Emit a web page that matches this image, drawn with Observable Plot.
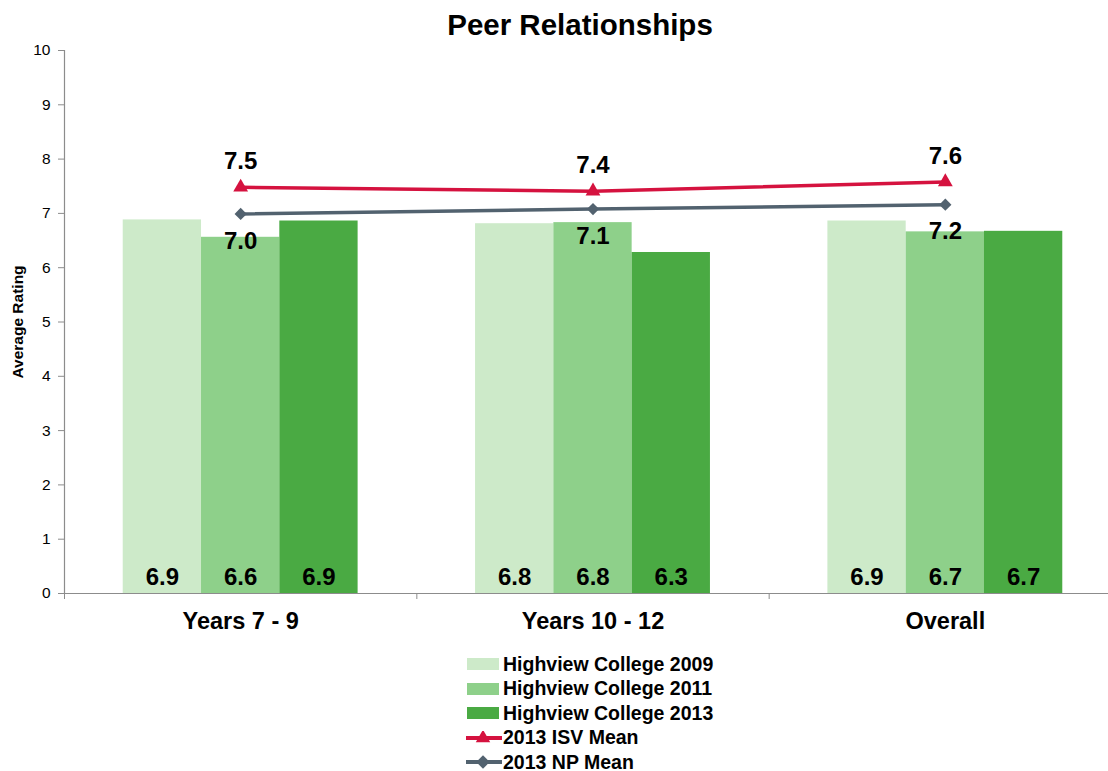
<!DOCTYPE html>
<html>
<head>
<meta charset="utf-8">
<script src="https://cdn.jsdelivr.net/npm/d3@7"></script>
<script src="https://cdn.jsdelivr.net/npm/@observablehq/plot@0.6"></script>
<style>
  body { margin: 0; background: #fff; font-family: "Liberation Sans", Arial, sans-serif; }
  #wrap { position: relative; width: 1108px; height: 771px; overflow: hidden; }
  #title { position: absolute; top: 8px; left: 0; width: 1160px; text-align: center; font-weight: bold; font-size: 29.5px; color: #000; }
  #chart { position: absolute; top: 0; left: 0; }
  #legend { position: absolute; left: 466px; top: 652px; }
  .item { display: flex; align-items: center; height: 24.5px; font-weight: bold; font-size: 19.5px; color: #000; }
  .item svg { margin-right: 3px; }
</style>
</head>
<body>
<div id="wrap">
  <div id="chart"></div>
  <div id="title">Peer Relationships</div>
  <div id="legend"></div>
</div>
<script>
const categories = ["Years 7 - 9", "Years 10 - 12", "Overall"];
const barSeries = ["Highview College 2009", "Highview College 2011", "Highview College 2013"];
const values2009 = [6.88, 6.81, 6.86];
const values2011 = [6.56, 6.83, 6.66];
const values2013 = [6.86, 6.28, 6.67];
const isvMean = [7.48, 7.41, 7.58];
const npMean = [6.99, 7.08, 7.16];
const lineSeries = ["2013 ISV Mean", "2013 NP Mean"];
const yTicks = [0, 1, 2, 3, 4, 5, 6, 7, 8, 9, 10];

const barColors = ["#cdeac9", "#8ed08a", "#4aaa43"];
const isvColor = "#d5123f";
const npColor = "#52626f";

const barValues = [values2009, values2011, values2013];
const groupWidth = 2 / 3;
const bw = groupWidth / barSeries.length;
const bars = [];
barSeries.forEach((s, si) => {
  categories.forEach((c, ci) => {
    const x1 = ci - groupWidth / 2 + si * bw;
    bars.push({series: s, category: c, ci, x1, x2: x1 + bw, xm: x1 + bw / 2, value: barValues[si][ci]});
  });
});
const isv = categories.map((c, ci) => ({category: c, ci, value: isvMean[ci]}));
const np = categories.map((c, ci) => ({category: c, ci, value: npMean[ci]}));
const catData = categories.map((c, ci) => ({category: c, ci}));
const boundaries = d3.range(categories.length + 1).map(i => i - 0.5);

const font = '"Liberation Sans", Arial, sans-serif';

const plot = Plot.plot({
  width: 1108,
  height: 645,
  marginTop: 50,
  marginBottom: 52,
  marginLeft: 64,
  marginRight: 0,
  style: {fontFamily: font, background: "transparent", overflow: "visible"},
  x: {type: "linear", domain: [-0.5, categories.length - 0.5], range: [64, 1121]},
  y: {domain: [0, 10]},
  color: {domain: barSeries, range: barColors},
  marks: [
    Plot.rectY(bars, {x1: "x1", x2: "x2", y: "value", fill: "series"}),
    Plot.ruleY([0], {stroke: "#8c8c8c", strokeWidth: 1.2}),
    Plot.ruleX([-0.5], {y1: 0, y2: 10, stroke: "#8c8c8c", strokeWidth: 1.2}),
    Plot.axisY({ticks: yTicks, tickSize: 6, tickPadding: 8, fontSize: 15.5, stroke: "#8c8c8c", label: null, tickFormat: d => String(d)}),
    Plot.axisX({ticks: boundaries, tickSize: 6, tickFormat: () => "", stroke: "#8c8c8c", label: null}),
    Plot.text(catData, {x: "ci", y: () => 0, text: "category", dy: 28, fontSize: 23.5, fontWeight: "bold", fill: "#000"}),
    Plot.text(["Average Rating"], {frameAnchor: "left", textAnchor: "middle", rotate: -90, dx: -46, fontSize: 15.5, fontWeight: "bold", fill: "#000"}),
    Plot.text(bars, {x: "xm", y: () => 0, text: d => d.value.toFixed(1), dy: -16, fontSize: 24, fontWeight: "bold", fill: "#000"}),
    Plot.line(isv, {x: "ci", y: "value", stroke: isvColor, strokeWidth: 3.5}),
    Plot.dot(isv, {x: "ci", y: "value", symbol: "triangle", r: 5.5, fill: isvColor, stroke: null}),
    Plot.line(np, {x: "ci", y: "value", stroke: npColor, strokeWidth: 3.5}),
    Plot.dot(np, {x: "ci", y: "value", symbol: "diamond2", r: 5.5, fill: npColor, stroke: null}),
    Plot.text(isv, {x: "ci", y: "value", text: d => d.value.toFixed(1), dy: -26, fontSize: 24, fontWeight: "bold", fill: "#000"}),
    Plot.text(np, {x: "ci", y: "value", text: d => d.value.toFixed(1), dy: 27, fontSize: 24, fontWeight: "bold", fill: "#000"})
  ]
});
document.getElementById("chart").appendChild(plot);

// Legend
const legend = d3.select("#legend");
barSeries.forEach((s, i) => {
  const it = legend.append("div").attr("class", "item");
  const sv = it.append("svg").attr("width", 34).attr("height", 14);
  sv.append("rect").attr("x", 1).attr("y", 1).attr("width", 32).attr("height", 12).attr("fill", barColors[i]);
  it.append("span").text(s);
});
const lineItems = [
  {name: lineSeries[0], color: isvColor, symbol: d3.symbolTriangle},
  {name: lineSeries[1], color: npColor, symbol: d3.symbolSquare, rotate: 45}
];
lineItems.forEach(li => {
  const it = legend.append("div").attr("class", "item");
  const sv = it.append("svg").attr("width", 36).attr("height", 14).style("margin-right", "1px");
  sv.append("line").attr("x1", 0).attr("x2", 36).attr("y1", 7).attr("y2", 7).attr("stroke", li.color).attr("stroke-width", 4);
  sv.append("path").attr("d", d3.symbol(li.symbol, 90)()).attr("fill", li.color)
    .attr("transform", `translate(17,7)${li.rotate ? " rotate(45)" : ""}`);
  it.append("span").text(li.name);
});
</script>
</body>
</html>
